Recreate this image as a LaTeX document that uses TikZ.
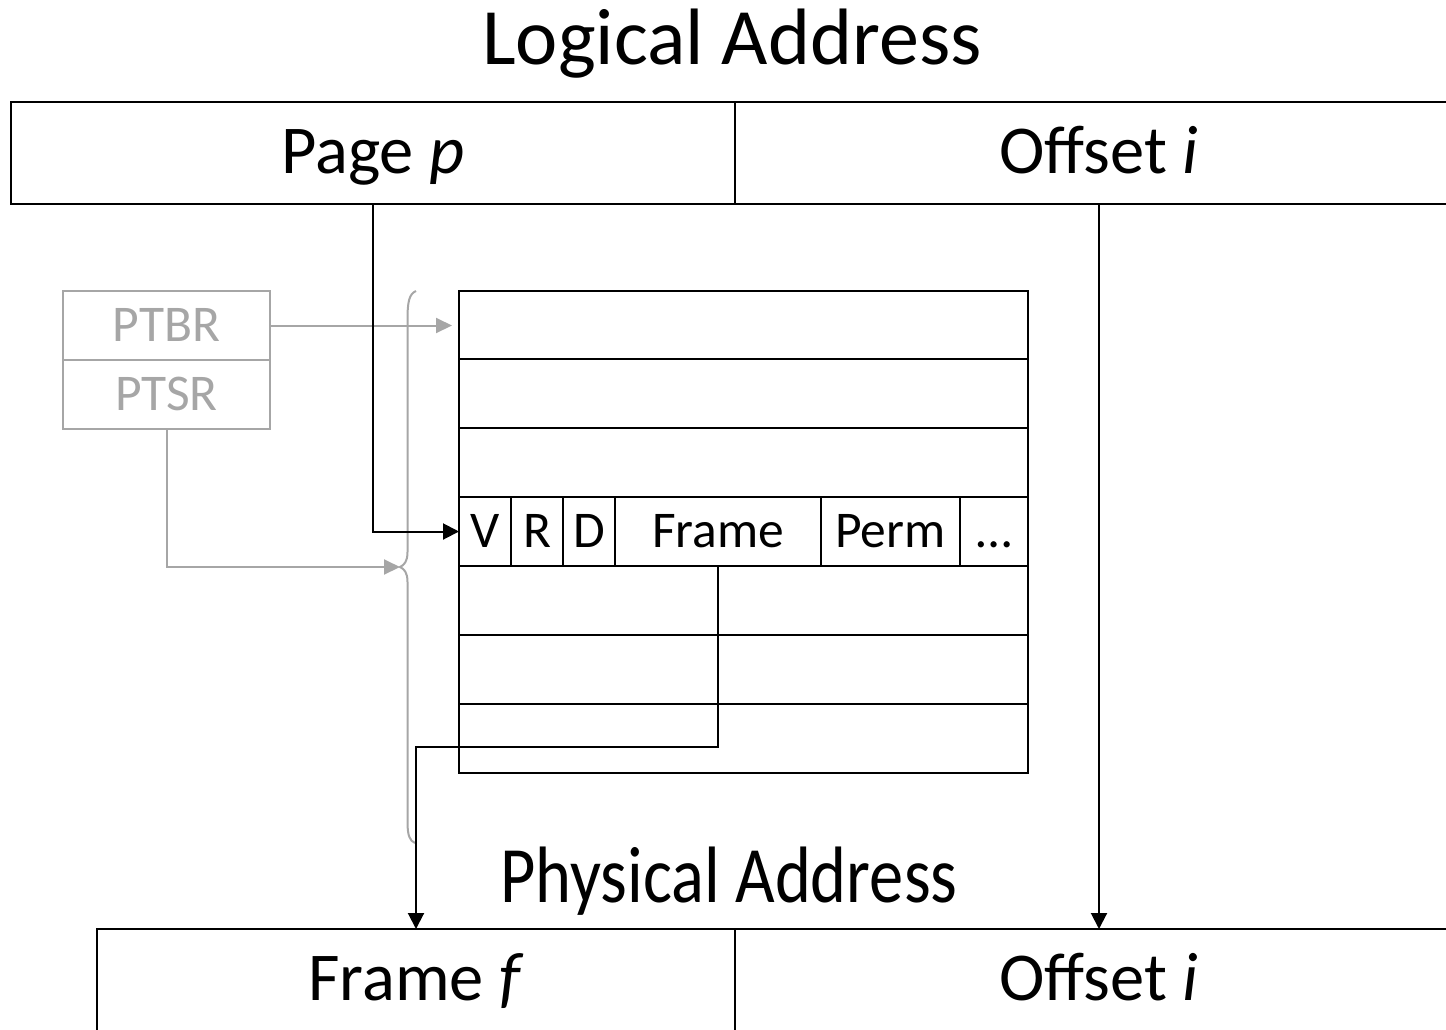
\documentclass[tikz,border=0pt]{standalone}
\usepackage{fontspec}
\setmainfont{Carlito}
\usetikzlibrary{arrows.meta}
\definecolor{regray}{HTML}{A6A6A6}
\begin{document}
\begin{tikzpicture}[x=1pt,y=-1pt,line width=2pt,
  addrbox/.style={draw=black,inner sep=0pt,outer sep=0pt,anchor=north west,
    font=\fontsize{68.5}{82}\selectfont,text height=40pt,text depth=0pt},
  tcell/.style={draw=black,inner sep=0pt,outer sep=0pt,minimum height=69pt,
    font=\fontsize{51.5}{62}\selectfont,text height=32pt,text depth=0pt},
  regcell/.style={tcell,draw=regray,text=regray,minimum width=207pt},
  title/.style={anchor=base,inner sep=0pt,font=\fontsize{80}{96}\selectfont},
  arr/.style={-{Triangle[length=16pt,width=16pt]}},
  garr/.style={draw=regray,-{Triangle[length=16pt,width=15pt]},regray}]
\useasboundingbox (0,0) rectangle (1446,1029);
\clip (0,0) rectangle (1446,1029);
% titles
\node[title] (tlog) at (732,64) {Logical Address};
\node[title] (tphys) at (729,902) {\scalebox{0.855}[1]{Physical Address}};
% logical address
\node[addrbox,minimum width=724pt,minimum height=102pt] (lpage) at (11,102) {Page \textit{p}};
\node[addrbox,minimum width=728pt,minimum height=102pt] (loff) at (735,102) {Offset \textit{i}};
% physical address
\node[addrbox,minimum width=638pt,minimum height=102pt] (pframe) at (97,929) {Frame \textit{f}};
\node[addrbox,minimum width=728pt,minimum height=102pt] (poff) at (735,929) {Offset \textit{i}};
% page table
\node[draw=black,inner sep=0pt,outer sep=0pt,anchor=north west,minimum width=569pt,minimum height=482pt] (pt) at (459,291) {};
\foreach \yy in {359,428,497,566,635,704} \draw (459,\yy) -- (1028,\yy);
\node[tcell,minimum width=52pt] (cV) at (485,531.5) {V};
\node[tcell,minimum width=52pt] (cR) at (537,531.5) {R};
\node[tcell,minimum width=52pt] (cD) at (589,531.5) {D};
\node[tcell,minimum width=206pt] (cframe) at (718,531.5) {Frame};
\node[tcell,minimum width=139pt] (cperm) at (890.5,531.5) {Perm};
\node[tcell,minimum width=68pt] (cdots) at (994,531.5) {\ldots};
% registers
\node[regcell] (ptbr) at (166.5,325.5) {PTBR};
\node[regcell] (ptsr) at (166.5,394.5) {PTSR};
% brace
\draw[regray] (416,291) .. controls (409,294) and (407.5,302) .. (407.5,320)
  -- (407.5,552) .. controls (407.5,562) and (404,565) .. (400,567)
  .. controls (404,569) and (407.5,572) .. (407.5,582)
  -- (407.5,822) .. controls (407.5,836) and (410,841) .. (415,843);
% connectors
\coordinate (ptbrend) at (452,325.5);
\coordinate (bracetip) at (400,567);
\draw[garr] (ptbr.east) -- (ptbrend);
\draw[garr] (ptsr.south) |- (bracetip);
\draw[arr] (lpage.south) |- (cV.west);
\draw[arr] (loff.south) -- (poff.north);
\draw[arr] (cframe.south) -- ++(0,181) -| (pframe.north);
\end{tikzpicture}
\end{document}
